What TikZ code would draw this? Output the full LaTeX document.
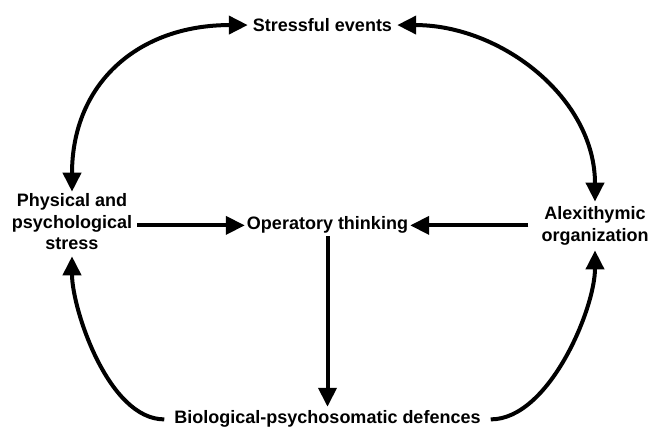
\documentclass[tikz,border=0pt]{standalone}
\usepackage{fontspec}
\setmainfont{Liberation Sans}
\usepackage{tikz}
\usetikzlibrary{arrows.meta}

\begin{document}
\begin{tikzpicture}[x=1pt, y=-1pt,
    every node/.style={font=\fontsize{18}{21.5}\selectfont\bfseries, inner sep=2pt},
    >={Triangle[length=19pt,width=18pt]},
    arr/.style={line width=4pt}]
  \useasboundingbox (0,0) rectangle (648,427);

  \node [anchor=base, inner xsep=5pt] (S) at (322.5,31.5) {Stressful events};
  \node [align=center, inner xsep=5pt] (P) at (72,222) {Physical and\\psychological\\stress};
  \node [anchor=base] (O) at (327.5,230) {Operatory thinking};
  \node [align=center, inner ysep=5pt] (A) at (595,226) {Alexithymic\\organization};
  \node [anchor=base, inner xsep=10pt, inner ysep=4pt] (B) at (327.5,424) {Biological-psychosomatic defences};

  \draw [arr, <->] (P.north) to[out=90, in=180, looseness=1.15] (S.west);
  \draw [arr, <->] (S.east) to[out=0, in=90] (A.north);
  \draw [arr, ->] (P.east |- O.east) -- (O.west);
  \draw [arr, ->, shorten <=11pt] (A.west |- O.east) -- (O.east);
  \draw [arr, ->] (O.south) -- (B.north);
  \draw [arr, ->, shorten >=4pt] (B.west) to[out=180, in=-90, looseness=0.75] (P.south);
  \draw [arr, ->] (B.east) to[out=0, in=-90, looseness=0.75] (A.south);
\end{tikzpicture}
\end{document}
